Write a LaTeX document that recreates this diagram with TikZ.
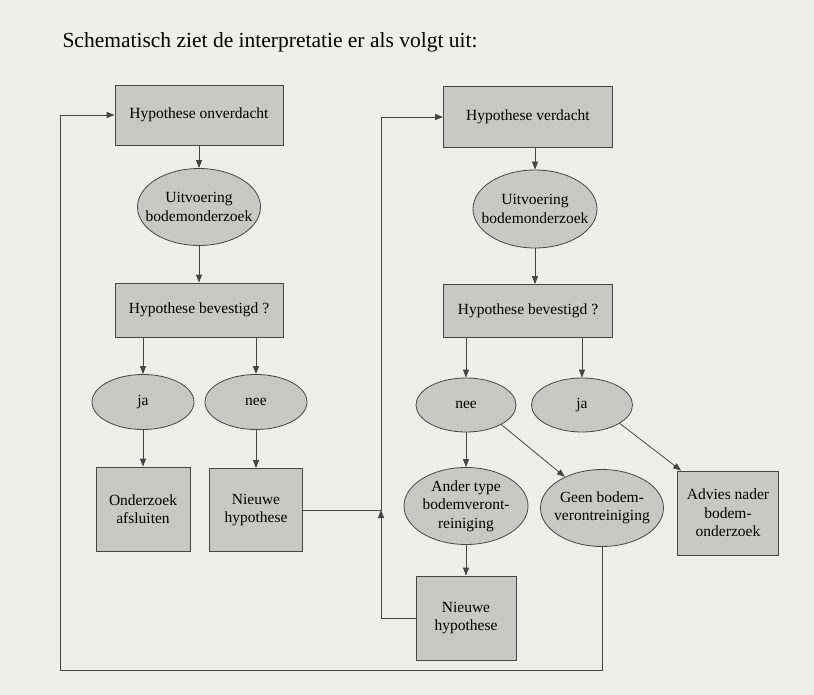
\documentclass[tikz,border=0pt]{standalone}
\usepackage{fontspec}
\setmainfont{Liberation Serif}
\usetikzlibrary{shapes.geometric}
\usetikzlibrary{arrows.meta}
\definecolor{papier}{RGB}{238,238,235}
\definecolor{vlak}{RGB}{200,200,198}
\definecolor{lijn}{RGB}{70,70,70}

\begin{document}
\begin{tikzpicture}[x=1pt, y=-1pt,
  blok/.style = {draw=lijn, fill=vlak, thick, inner sep=0pt, align=center, font=\fontsize{15.5}{18.5}\selectfont},
  hokje/.style = {blok, rectangle},
  ovaal/.style = {blok, ellipse, inner xsep=-12pt},
  pijl/.style = {draw=lijn, thick, -{Triangle[length=8pt,width=6pt]}}]
\fill [papier] (0,0) rectangle (814,695);
\useasboundingbox (0,0) rectangle (814,695);
\node (titel) at (270,42) {\fontsize{21.5}{24}\selectfont Schematisch ziet de interpretatie er als volgt uit:};

% linker kolom
\node [hokje, minimum width=168, minimum height=60] (onverdacht) at (199,115) {Hypothese onverdacht};
\node [ovaal, minimum width=123, minimum height=77] (uitvL) at (199,207) {Uitvoering\\bodemonderzoek};
\node [hokje, minimum width=168, minimum height=54] (bevL) at (199,310) {Hypothese bevestigd ?};
\node [ovaal, minimum width=102, minimum height=55] (jaL) at (143,402) {ja};
\node [ovaal, minimum width=102, minimum height=55] (neeL) at (256,402) {nee};
\node [hokje, minimum width=94, minimum height=84] (afsluiten) at (143,509) {Onderzoek\\afsluiten};
\node [hokje, minimum width=93, minimum height=83] (nieuwL) at (256,510) {Nieuwe\\hypothese};

% rechter kolom
\node [hokje, minimum width=169, minimum height=61] (verdacht) at (528,117) {Hypothese verdacht};
\node [ovaal, minimum width=124, minimum height=78] (uitvR) at (535,209) {Uitvoering\\bodemonderzoek};
\node [hokje, minimum width=169, minimum height=53] (bevR) at (528,311) {Hypothese bevestigd ?};
\node [ovaal, minimum width=100, minimum height=54] (neeR) at (466,405) {nee};
\node [ovaal, minimum width=101, minimum height=54] (jaR) at (582,405) {ja};
\node [ovaal, minimum width=124, minimum height=77] (ander) at (466,506) {Ander type\\bodemveront-\\reiniging};
\node [ovaal, minimum width=123, minimum height=77] (geen) at (602,508) {Geen bodem-\\verontreiniging};
\node [hokje, minimum width=101, minimum height=84] (advies) at (728,513) {Advies nader\\bodem-\\onderzoek};
\node [hokje, minimum width=100, minimum height=84] (nieuwR) at (466,618) {Nieuwe\\hypothese};

\coordinate (hoekL) at (60,670);
\coordinate (kolom) at (381,0);

\draw [pijl] (onverdacht) -- (uitvL);
\draw [pijl] (uitvL) -- (bevL);
\draw [pijl] (bevL.south -| jaL) -- (jaL);
\draw [pijl] (bevL.south -| neeL) -- (neeL);
\draw [pijl] (jaL) -- (afsluiten);
\draw [pijl] (neeL) -- (nieuwL);

\draw [pijl] (verdacht.south -| uitvR) -- (uitvR);
\draw [pijl] (uitvR) -- (bevR.north -| uitvR);
\draw [pijl] (bevR.south -| neeR) -- (neeR);
\draw [pijl] (bevR.south -| jaR) -- (jaR);
\draw [pijl] (neeR) -- (ander);
\draw [pijl] (neeR.-29) -- (geen.140);
\draw [pijl] (jaR.-26) -- ([xshift=4]advies.north west);
\draw [pijl] (ander) -- (nieuwR);

%terugkoppeling
\draw [pijl] (geen.south) |- (hoekL) |- (onverdacht.west);
\draw [pijl] (nieuwL.east) -| (kolom |- verdacht.west) -- (verdacht.west);
\draw [pijl] (nieuwR.west) -| (kolom |- nieuwL.east);
\end{tikzpicture}
\end{document}
